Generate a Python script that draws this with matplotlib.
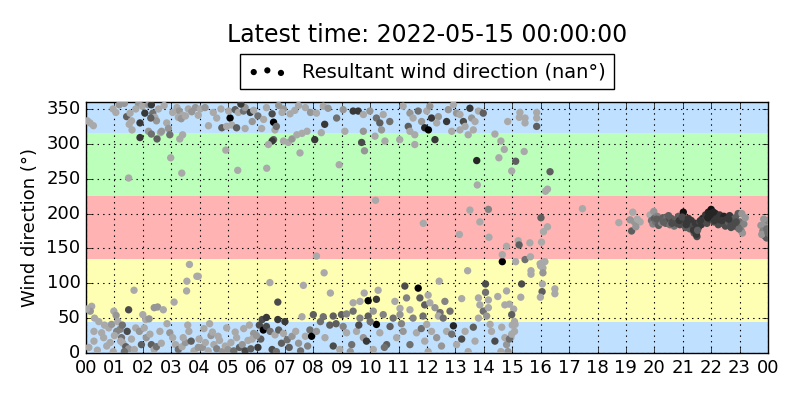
import datetime
import numpy as np
import matplotlib
matplotlib.use("Agg")
import matplotlib.pyplot as plt
import matplotlib.dates as mdates

# jam sejak 2022-05-14 00:00, arah angin (derajat), tingkat abu-abu (0 hitam .. 0.9 abu terang)
jam_a = [0.05, 0.14, 0.26, 1.17, 1.43, 1.55, 1.60, 1.52, 1.62, 1.90,
         1.85, 1.98, 2.07, 2.20, 2.30, 2.35, 2.42, 2.48, 2.28, 2.62,
         2.66, 2.84, 2.90, 2.95, 3.20, 3.28, 3.40, 3.25, 3.35, 3.60,
         3.72, 1.90, 2.20, 2.30, 2.50, 2.98, 3.30, 3.40, 1.50, 3.37,
         3.64, 3.90, 3.55, 3.54, 1.69, 3.10, 0.20, 0.15, 0.30, 1.50,
         0.98, 1.06, 2.40, 2.52, 2.72, 2.00, 2.10, 2.22, 0.02, 0.45,
         0.28, 0.55, 0.28, 0.62, 0.80, 0.90, 0.73, 0.96, 1.08, 1.20,
         1.25, 1.30, 1.40, 1.50, 1.35, 1.22, 1.45, 1.75, 1.88, 2.05,
         2.12, 2.25, 2.30, 2.40, 2.48, 2.60, 2.65, 2.85, 2.95, 3.05,
         3.15, 3.25, 3.38, 3.50, 3.62, 3.42, 3.70, 3.80, 3.58, 3.95,
         0.10, 0.40, 0.65, 0.85, 1.00, 1.12, 1.28, 1.60, 1.70, 1.95,
         0.95, 1.05, 1.35, 1.75, 2.55, 2.75, 3.05, 3.50, 3.85, 3.95]
arah_a = [333, 330, 326, 356, 339, 344, 333, 328, 320, 330,
          357, 354, 344, 356, 356, 344, 338, 333, 337, 316,
          318, 330, 322, 313, 352, 347, 341, 338, 336, 350,
          346, 309, 318, 314, 307, 280, 307, 313, 251, 258,
          127, 110, 103, 89, 90, 73, 67, 60, 50, 62,
          60, 54, 65, 66, 62, 55, 48, 49, 63, 45,
          31, 29, 17, 22, 36, 41, 10, 2, 31, 34,
          22, 14, 9, 6, 2, 17, 31, 36, 31, 36,
          22, 27, 12, 5, 9, 31, 14, 42, 29, 22,
          12, 5, 9, 15, 31, 22, 17, 3, 40, 8,
          8, 4, 40, 15, 25, 45, 40, 20, 5, 12,
          350, 345, 358, 350, 350, 355, 345, 340, 352, 341]
abu_a = [0.9, 0.9, 0.9, 0.8, 0.5, 0.9, 0.9, 0.9, 0.9, 0.3,
         0.8, 0.9, 0.3, 0.8, 0.3, 0.6, 0.9, 0.8, 0.5, 0.9,
         0.8, 0.9, 0.8, 0.6, 0.9, 0.8, 0.9, 0.9, 0.8, 0.9,
         0.8, 0.3, 0.8, 0.6, 0.5, 0.9, 0.9, 0.9, 0.9, 0.9,
         0.9, 0.9, 0.9, 0.9, 0.9, 0.9, 0.9, 0.8, 0.9, 0.4,
         0.9, 0.8, 0.8, 0.8, 0.9, 0.9, 0.9, 0.8, 0.9, 0.9,
         0.9, 0.9, 0.9, 0.9, 0.9, 0.8, 0.9, 0.9, 0.7, 0.7,
         0.6, 0.9, 0.5, 0.8, 0.6, 0.9, 0.4, 0.9, 0.8, 0.9,
         0.8, 0.9, 0.5, 0.9, 0.6, 0.9, 0.9, 0.9, 0.8, 0.9,
         0.9, 0.6, 0.9, 0.8, 0.9, 0.9, 0.5, 0.9, 0.9, 0.8,
         0.9, 0.9, 0.9, 0.9, 0.9, 0.9, 0.6, 0.9, 0.9, 0.5,
         0.9, 0.9, 0.8, 0.9, 0.9, 0.9, 0.9, 0.9, 0.8, 0.9]

jam_b = [5.07, 5.02, 5.25, 5.36, 5.54, 5.60, 5.78, 5.90, 4.78, 4.95,
         5.13, 5.30, 5.60, 4.31, 4.02, 4.19, 4.48, 6.18, 6.60, 6.65,
         6.70, 6.60, 6.55, 6.42, 6.95, 7.12, 7.25, 7.42, 7.60, 7.78,
         7.53, 4.92, 5.34, 6.36, 6.95, 7.18, 7.35, 7.48, 7.72, 7.90,
         6.35, 6.55, 6.78, 6.90, 6.05, 6.25, 4.60, 4.75, 5.45, 5.85,
         3.95, 6.47, 7.65, 6.75, 6.20, 6.35, 6.75, 7.00, 7.60, 6.10,
         6.24, 6.35, 6.48, 6.65, 6.78, 6.88, 6.95, 7.08, 7.25, 7.38,
         7.48, 7.72, 7.88, 6.05, 6.15, 6.55, 6.70, 7.15, 7.55, 7.80,
         3.98, 4.10, 4.20, 4.30, 4.40, 4.50, 4.60, 4.70, 4.80, 4.90,
         5.00, 5.10, 5.20, 5.30, 5.40, 5.50, 5.60, 5.70, 5.80, 5.90,
         4.15, 4.45, 4.65, 4.95, 5.25, 5.55, 5.85, 6.00, 4.35, 5.75]
arah_b = [337, 347, 349, 345, 347, 352, 345, 348, 323, 325,
          327, 323, 322, 326, 350, 352, 345, 322, 331, 320,
          325, 306, 304, 299, 304, 302, 307, 313, 315, 318,
          287, 291, 262, 265, 350, 343, 348, 355, 352, 345,
          352, 343, 355, 345, 340, 335, 337, 350, 357, 332,
          110, 101, 97, 73, 48, 51, 48, 45, 52, 40,
          33, 38, 31, 26, 33, 14, 28, 19, 24, 31,
          14, 24, 33, 8, 20, 5, 2, 8, 3, 10,
          20, 8, 15, 3, 25, 12, 6, 18, 2, 10,
          5, 15, 3, 22, 8, 12, 3, 18, 6, 28,
          35, 30, 24, 36, 30, 35, 20, 25, 42, 40]
abu_b = [0.0, 0.9, 0.5, 0.9, 0.6, 0.8, 0.3, 0.9, 0.5, 0.9,
         0.9, 0.5, 0.9, 0.9, 0.9, 0.8, 0.9, 0.9, 0.0, 0.9,
         0.6, 0.5, 0.3, 0.9, 0.9, 0.9, 0.8, 0.9, 0.9, 0.9,
         0.9, 0.9, 0.9, 0.9, 0.8, 0.9, 0.9, 0.9, 0.9, 0.8,
         0.9, 0.4, 0.8, 0.9, 0.6, 0.9, 0.9, 0.9, 0.3, 0.8,
         0.9, 0.9, 0.9, 0.4, 0.4, 0.3, 0.3, 0.3, 0.9, 0.4,
         0.0, 0.4, 0.6, 0.9, 0.5, 0.5, 0.9, 0.6, 0.8, 0.9,
         0.8, 0.9, 0.6, 0.3, 0.5, 0.4, 0.6, 0.5, 0.6, 0.7,
         0.9, 0.8, 0.9, 0.9, 0.8, 0.9, 0.7, 0.9, 0.8, 0.9,
         0.8, 0.9, 0.6, 0.9, 0.5, 0.8, 0.4, 0.9, 0.5, 0.8,
         0.9, 0.9, 0.9, 0.9, 0.9, 0.9, 0.9, 0.8, 0.9, 0.9]

jam_c = [8.11, 8.35, 8.52, 8.82, 9.05, 9.40, 9.58, 9.76, 9.99, 10.22,
         10.34, 10.46, 10.69, 11.16, 11.40, 11.51, 11.69, 11.81, 11.92, 11.34,
         11.40, 11.57, 10.40, 9.76, 9.11, 8.40, 8.05, 8.28, 10.17, 10.52,
         11.04, 11.57, 9.70, 9.80, 8.91, 10.19, 11.87, 8.11, 8.38, 8.60,
         11.22, 11.69, 11.75, 11.28, 10.28, 9.79, 9.93, 10.22, 9.40, 9.64,
         10.87, 11.40, 11.05, 11.92, 12.04, 8.00, 8.35, 8.70, 8.99, 9.17,
         9.40, 9.64, 9.93, 10.11, 10.46, 10.81, 11.05, 11.51, 11.86, 10.22,
         7.94, 8.11, 8.41, 8.70, 8.93, 9.17, 9.35, 9.52, 9.76, 9.87,
         10.11, 10.34, 10.58, 10.93, 11.16, 11.40, 11.63, 11.92, 12.04, 8.58,
         8.25, 8.80, 9.05, 9.60, 10.00, 10.70, 11.10, 11.80, 9.30, 10.50]
arah_c = [344, 354, 351, 337, 349, 347, 347, 342, 347, 337,
          330, 342, 332, 354, 344, 337, 347, 332, 323, 325,
          318, 313, 320, 318, 318, 328, 306, 316, 311, 304,
          306, 299, 302, 290, 270, 219, 186, 139, 115, 86,
          96, 93, 79, 79, 90, 86, 75, 77, 72, 74,
          74, 62, 64, 69, 83, 55, 52, 53, 55, 56,
          60, 50, 53, 60, 55, 50, 55, 50, 53, 41,
          24, 31, 22, 10, 5, 29, 12, 31, 22, 17,
          5, 29, 12, 22, 31, 12, 29, 17, 2, 40,
          45, 42, 38, 40, 45, 38, 42, 35, 2, 8]
abu_c = [0.9, 0.9, 0.8, 0.6, 0.8, 0.3, 0.3, 0.9, 0.8, 0.6,
         0.5, 0.9, 0.6, 0.9, 0.8, 0.9, 0.6, 0.8, 0.2, 0.5,
         0.9, 0.9, 0.8, 0.8, 0.9, 0.3, 0.3, 0.9, 0.9, 0.9,
         0.9, 0.9, 0.4, 0.8, 0.9, 0.9, 0.9, 0.9, 0.9, 0.9,
         0.4, 0.0, 0.5, 0.7, 0.9, 0.9, 0.0, 0.3, 0.9, 0.9,
         0.9, 0.9, 0.9, 0.5, 0.9, 0.5, 0.6, 0.5, 0.5, 0.7,
         0.6, 0.7, 0.5, 0.8, 0.7, 0.6, 0.8, 0.7, 0.6, 0.0,
         0.0, 0.8, 0.9, 0.4, 0.9, 0.9, 0.6, 0.9, 0.8, 0.3,
         0.9, 0.9, 0.5, 0.9, 0.8, 0.6, 0.9, 0.9, 0.9, 0.5,
         0.6, 0.5, 0.7, 0.4, 0.6, 0.5, 0.7, 0.6, 0.8, 0.6]

jam_d = [11.99, 12.10, 12.16, 12.05, 12.40, 12.34, 12.69, 12.75, 12.93, 13.04,
         13.16, 13.28, 13.34, 13.51, 13.57, 13.69, 13.63, 13.81, 13.98, 13.45,
         13.16, 12.87, 12.28, 13.75, 13.77, 13.51, 14.16, 13.86, 13.14, 14.18,
         13.43, 14.65, 14.65, 14.80, 15.12, 15.45, 15.21, 15.24, 15.62, 15.64,
         14.39, 14.60, 14.72, 14.53, 15.12, 14.98, 15.42, 14.84, 15.25, 15.45,
         15.86, 15.86, 16.01, 16.03, 16.07, 16.00, 16.06, 15.33, 15.30, 15.66,
         15.66, 14.80, 14.49, 14.06, 14.06, 14.16, 13.22, 12.43, 16.33, 16.17,
         16.24, 16.10, 16.24, 16.15, 15.98, 16.08, 16.08, 16.50, 16.50, 16.05,
         15.99, 15.86, 15.27, 15.45, 17.47, 14.90, 15.05, 15.00, 15.08, 14.95,
         12.10, 12.28, 12.46, 12.63, 12.81, 12.40, 12.57, 11.99, 12.16, 12.34,
         12.51, 12.69, 12.87, 12.93, 13.04, 13.22, 13.34, 13.45, 13.63, 13.69,
         13.86, 13.98, 13.81, 14.10, 14.22, 14.27, 14.39, 14.63, 14.74, 14.80,
         14.16, 13.81, 14.74, 14.98, 15.10, 15.08, 14.90, 14.85, 14.98, 14.60]
arah_d = [347, 354, 337, 320, 339, 330, 332, 349, 356, 344,
          342, 332, 325, 351, 337, 332, 320, 347, 344, 313,
          320, 318, 306, 276, 241, 205, 206, 188, 170, 166,
          118, 131, 141, 153, 131, 134, 161, 155, 158, 138,
          314, 304, 292, 280, 275, 261, 289, 332, 338, 330,
          337, 325, 194, 159, 130, 125, 99, 99, 80, 118,
          113, 89, 81, 99, 87, 76, 78, 103, 260, 232,
          235, 174, 181, 131, 128, 122, 115, 92, 85, 88,
          80, 345, 345, 337, 207, 70, 63, 40, 45, 22,
          72, 65, 58, 74, 60, 53, 50, 41, 31, 22,
          10, 31, 27, 39, 12, 20, 31, 2, 37, 17,
          69, 60, 50, 53, 41, 31, 17, 37, 22, 12,
          65, 79, 69, 55, 41, 31, 20, 2, 27, 2]
abu_d = [0.9, 0.8, 0.3, 0.0, 0.8, 0.9, 0.3, 0.8, 0.9, 0.8,
         0.9, 0.4, 0.9, 0.3, 0.8, 0.9, 0.9, 0.9, 0.5, 0.9,
         0.9, 0.9, 0.3, 0.2, 0.9, 0.9, 0.7, 0.9, 0.9, 0.9,
         0.9, 0.0, 0.9, 0.9, 0.9, 0.6, 0.9, 0.5, 0.9, 0.9,
         0.9, 0.9, 0.9, 0.9, 0.5, 0.9, 0.9, 0.9, 0.9, 0.9,
         0.9, 0.5, 0.5, 0.9, 0.9, 0.9, 0.9, 0.4, 0.9, 0.9,
         0.9, 0.9, 0.9, 0.4, 0.6, 0.9, 0.9, 0.9, 0.5, 0.9,
         0.9, 0.9, 0.9, 0.9, 0.9, 0.9, 0.8, 0.9, 0.9, 0.5,
         0.9, 0.9, 0.9, 0.9, 0.9, 0.9, 0.9, 0.9, 0.9, 0.9,
         0.9, 0.8, 0.6, 0.7, 0.6, 0.9, 0.6, 0.9, 0.9, 0.8,
         0.8, 0.9, 0.6, 0.2, 0.9, 0.4, 0.9, 0.9, 0.5, 0.9,
         0.9, 0.6, 0.9, 0.8, 0.9, 0.9, 0.4, 0.9, 0.9, 0.8,
         0.9, 0.9, 0.9, 0.5, 0.9, 0.9, 0.6, 0.8, 0.9, 0.9]

jam_e = [18.75, 19.15, 19.24, 19.30, 19.40, 19.50, 19.20, 19.35, 19.85, 19.98,
         19.90, 19.95, 20.00, 20.05, 20.10, 20.15, 20.20, 20.25, 20.30, 20.35,
         20.40, 20.45, 20.50, 20.55, 20.60, 20.65, 20.70, 20.75, 20.80, 20.85,
         20.90, 20.95, 21.00, 21.02, 21.05, 21.10, 21.15, 21.20, 21.25, 21.30,
         21.35, 21.40, 21.45, 21.50, 21.55, 21.60, 21.65, 21.70, 21.75, 21.80,
         21.85, 21.90, 21.95, 22.00, 22.05, 22.10, 22.15, 22.20, 22.25, 22.30,
         22.35, 22.40, 22.45, 22.50, 22.55, 22.60, 22.65, 22.70, 22.75, 22.80,
         22.85, 22.90, 22.95, 23.00, 23.05, 23.10, 23.15, 23.20, 23.08, 22.98,
         20.08, 20.32, 20.62, 20.88, 21.12, 21.38, 21.62, 21.88, 22.12, 22.38,
         22.62, 22.88, 21.48, 21.52, 20.98, 21.95, 22.08, 21.20, 20.50, 22.70,
         23.75, 23.82, 23.88, 23.92, 23.96, 24.00, 23.85, 23.95, 23.78, 24.00]
arah_e = [187, 191, 202, 188, 192, 188, 175, 181, 198, 203,
          190, 185, 193, 188, 196, 183, 191, 187, 194, 189,
          186, 195, 190, 184, 193, 188, 182, 191, 186, 196,
          184, 190, 186, 202, 193, 180, 188, 184, 178, 190,
          182, 172, 186, 167, 180, 188, 184, 193, 190, 198,
          186, 202, 192, 206, 196, 188, 200, 194, 184, 198,
          190, 186, 196, 182, 192, 188, 197, 184, 191, 186,
          194, 181, 200, 188, 176, 172, 185, 194, 200, 178,
          192, 188, 186, 190, 184, 176, 190, 194, 190, 190,
          192, 188, 170, 176, 195, 200, 202, 193, 197, 180,
          183, 175, 168, 185, 178, 190, 192, 165, 170, 172]
abu_e = [0.9, 0.8, 0.9, 0.8, 0.9, 0.9, 0.5, 0.8, 0.9, 0.8,
         0.6, 0.7, 0.5, 0.6, 0.7, 0.5, 0.6, 0.7, 0.5, 0.6,
         0.5, 0.6, 0.4, 0.6, 0.5, 0.4, 0.6, 0.5, 0.4, 0.5,
         0.4, 0.5, 0.4, 0.1, 0.4, 0.5, 0.3, 0.4, 0.5, 0.3,
         0.4, 0.5, 0.3, 0.4, 0.3, 0.4, 0.3, 0.2, 0.4, 0.3,
         0.4, 0.2, 0.3, 0.1, 0.2, 0.4, 0.2, 0.3, 0.4, 0.3,
         0.3, 0.4, 0.2, 0.4, 0.3, 0.5, 0.3, 0.4, 0.5, 0.4,
         0.5, 0.4, 0.5, 0.6, 0.7, 0.8, 0.7, 0.8, 0.8, 0.6,
         0.5, 0.5, 0.4, 0.3, 0.3, 0.3, 0.3, 0.2, 0.3, 0.3,
         0.3, 0.4, 0.3, 0.5, 0.4, 0.2, 0.2, 0.3, 0.5, 0.4,
         0.8, 0.7, 0.6, 0.8, 0.6, 0.7, 0.8, 0.5, 0.8, 0.6]

# batas sektor arah angin
batas_sektor = [0, 45, 135, 225, 315, 360]
warna_sektor = ['#bfe1ff', '#ffffb3', '#ffb3b3', '#bbffbb', '#bfe1ff']

jam = np.array(jam_a + jam_b + jam_c + jam_d + jam_e)
arah = np.array(arah_a + arah_b + arah_c + arah_d + arah_e)
abu = np.array(abu_a + abu_b + abu_c + abu_d + abu_e)

awal = datetime.datetime(2022, 5, 14)
waktu = mdates.date2num(awal) + jam / 24.0

plt.style.use('classic')
fig = plt.figure(figsize=(8, 4), dpi=100, facecolor='white')
ax = fig.add_axes([0.1075, 0.1175, 0.8525, 0.6275])

for i in range(len(warna_sektor)):
    ax.axhspan(batas_sektor[i], batas_sektor[i + 1], color=warna_sektor[i], lw=0, zorder=0)

sc = ax.scatter(waktu, arah, c=abu, cmap='gray', vmin=0, vmax=1.36, s=28,
                edgecolors='none', zorder=3,
                label='Resultant wind direction (nan°)')

ax.set_xlim(mdates.date2num(awal), mdates.date2num(awal + datetime.timedelta(days=1)))
ax.set_ylim(0, 360)
ax.set_yticks(range(0, 351, 50))
ax.xaxis.set_major_locator(mdates.HourLocator(interval=1))
ax.xaxis.set_major_formatter(mdates.DateFormatter('%H'))
ax.grid(True, color='k', linestyle=':', linewidth=0.8)
ax.set_axisbelow(False)
ax.set_ylabel('Wind direction (°)', fontsize=13)
ax.tick_params(labelsize=13)

leg = ax.legend(loc='lower center', bbox_to_anchor=(0.5, 1.052), borderaxespad=0,
                fontsize=14, scatterpoints=3)
for h in leg.legend_handles:
    h.set_facecolor('k')
    h.set_array(None)
    h.set_sizes([20])

fig.text(0.534, 0.912, 'Latest time: 2022-05-15 00:00:00', ha='center', va='center', fontsize=17)

fig.savefig('out.png', dpi=100, facecolor='white')
